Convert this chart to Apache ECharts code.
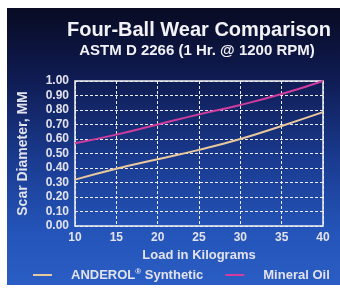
<!DOCTYPE html>
<html>
<head>
<meta charset="utf-8">
<script src="https://cdn.jsdelivr.net/npm/echarts@6/dist/echarts.min.js"></script>
<style>
  html, body { margin: 0; padding: 0; background: #fff; }
  #wrap {
    position: absolute; left: 7px; top: 8px; width: 333px; height: 277px;
    background: linear-gradient(to bottom, #080b22 0%, #0f1b52 25%, #1a3b90 55%, #2454b8 80%, #2a5dc4 100%);
  }
  #chart { position: absolute; left: 0; top: 0; width: 340px; height: 288px; }
</style>
</head>
<body>
<div id="wrap"></div>
<div id="chart"></div>
<script>
// 데이터
var loads = [10, 15, 20, 25, 30, 35, 40];
var synthetic = [0.32, 0.395, 0.46, 0.525, 0.60, 0.69, 0.785];
var mineralOil = [0.57, 0.63, 0.70, 0.77, 0.835, 0.91, 1.00];
var seriesNames = ["ANDEROL Synthetic", "Mineral Oil"];

function pairs(ys) {
  return loads.map(function (x, i) { return [x, ys[i]]; });
}

var chart = echarts.init(document.getElementById("chart"));
var labelColor = "#e2e2ec";
var fontFam = "Liberation Sans, Arial, sans-serif";

var option = {
  backgroundColor: "transparent",
  title: [
    {
      text: "Four-Ball Wear Comparison",
      left: 194, top: 15, textAlign: "center",
      textStyle: { color: "#f2f2f6", fontSize: 20, fontWeight: "bold", fontFamily: fontFam }
    },
    {
      text: "ASTM D 2266 (1 Hr. @ 1200 RPM)",
      left: 192, top: 38, textAlign: "center",
      textStyle: { color: "#f2f2f6", fontSize: 15, fontWeight: "bold", fontFamily: fontFam }
    }
  ],
  legend: {
    left: 28, top: 263,
    icon: "rect", itemWidth: 19, itemHeight: 2, itemGap: 22,
    data: seriesNames,
    formatter: function (name) {
      if (name === seriesNames[0]) return "{t|ANDEROL}{s|®}{t| Synthetic}";
      return "{t|" + name + "}";
    },
    textStyle: {
      color: labelColor, fontFamily: fontFam, fontWeight: "bold", fontSize: 13,
      padding: [0, 0, 0, 14],
      rich: {
        t: { color: labelColor, fontSize: 13, fontWeight: "bold", fontFamily: fontFam },
        s: { color: labelColor, fontSize: 8, fontWeight: "bold", fontFamily: fontFam, verticalAlign: "top", padding: [0, 0, 6, 0] }
      }
    }
  },
  grid: { left: 75, right: 17, top: 81, bottom: 62, show: true, borderColor: "#f4f4f4", borderWidth: 1.5 },
  xAxis: {
    type: "value", min: 10, max: 40, interval: 5,
    name: "Load in Kilograms", nameLocation: "middle", nameGap: 21,
    nameTextStyle: { color: labelColor, fontSize: 13, fontWeight: "bold", fontFamily: fontFam },
    axisLine: { show: false }, axisTick: { show: false },
    axisLabel: { color: labelColor, fontSize: 12, fontWeight: "bold", fontFamily: fontFam, margin: 6 },
    splitLine: { lineStyle: { color: "#ececf0", type: [3, 2], width: 1 } }
  },
  yAxis: {
    type: "value", min: 0, max: 1, interval: 0.1,
    name: "Scar Diameter, MM", nameLocation: "middle", nameGap: 45,
    nameTextStyle: { color: labelColor, fontSize: 14, fontWeight: "bold", fontFamily: fontFam },
    axisLine: { show: false }, axisTick: { show: false },
    axisLabel: {
      color: labelColor, fontSize: 12, fontWeight: "bold", fontFamily: fontFam, margin: 6,
      formatter: function (v) { return v.toFixed(2); }
    },
    splitLine: { lineStyle: { color: "#ececf0", type: [3, 2], width: 1 } }
  },
  series: [
    {
      name: seriesNames[0], type: "line", data: pairs(synthetic),
      smooth: true, symbol: "none",
      lineStyle: { color: "#e8c89c", width: 2 }, itemStyle: { color: "#e8c89c" }
    },
    {
      name: seriesNames[1], type: "line", data: pairs(mineralOil),
      smooth: true, symbol: "none",
      lineStyle: { color: "#d23c9c", width: 2 }, itemStyle: { color: "#d23c9c" }
    }
  ]
};
chart.setOption(option);
</script>
</body>
</html>
